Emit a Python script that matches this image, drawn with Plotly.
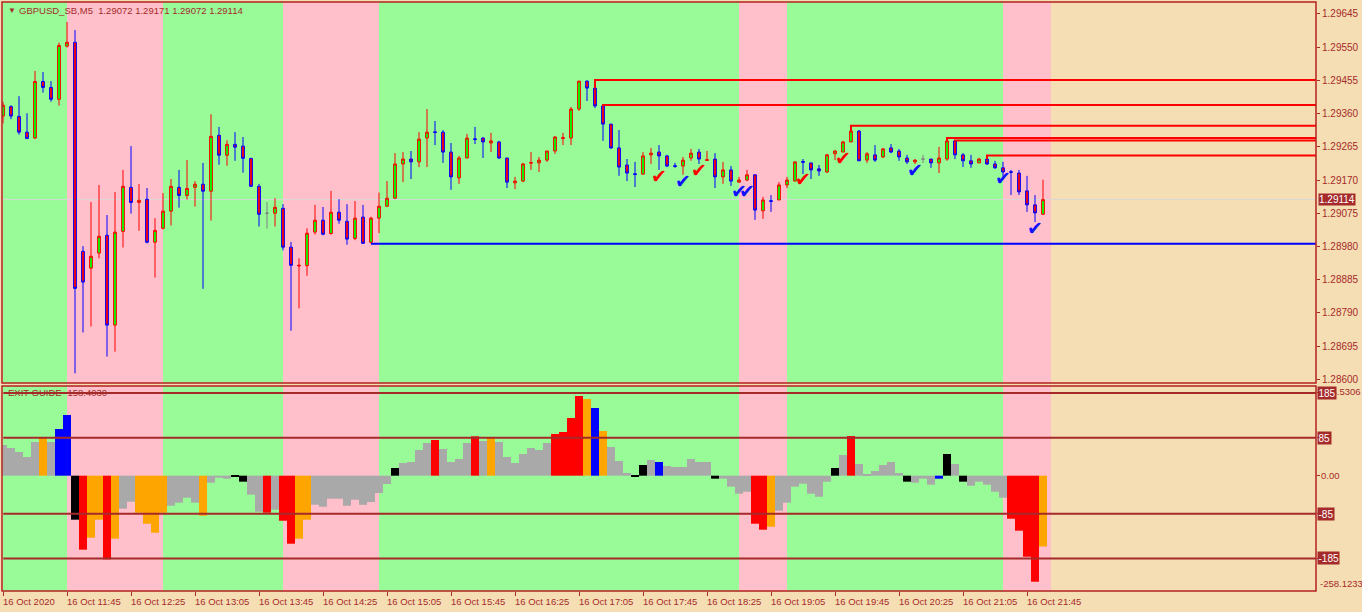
import plotly.graph_objects as go

# ---------------- data ----------------
BARS = list(range(131))

opens = [1.29353, 1.29380, 1.29352, 1.29307, 1.29290, 1.29452, 1.29435, 1.29401, 1.29553, 1.29564,
         1.28966, 1.28918, 1.28961, 1.29012, 1.28755, 1.29023, 1.29149, 1.29106, 1.29115, 1.28992,
         1.29032, 1.29081, 1.29149, 1.29126, 1.29149, 1.29158, 1.29138, 1.29298, 1.29241, 1.29272,
         1.29267, 1.29232, 1.29152, 1.29075, 1.29075, 1.29089, 1.28978, 1.28924, 1.28925, 1.29021,
         1.29055, 1.29017, 1.29078, 1.29052, 1.29003, 1.29064, 1.28992, 1.29061, 1.29095, 1.29118,
         1.29216, 1.29230, 1.29222, 1.29290, 1.29308, 1.29307, 1.29250, 1.29176, 1.29233, 1.29288,
         1.29290, 1.29276, 1.29279, 1.29233, 1.29162, 1.29167, 1.29218, 1.29219, 1.29227, 1.29253,
         1.29289, 1.29290, 1.29373, 1.29453, 1.29433, 1.29382, 1.29330, 1.29262, 1.29213, 1.29188,
         1.29187, 1.29242, 1.29250, 1.29239, 1.29211, 1.29210, 1.29233, 1.29250, 1.29226, 1.29230,
         1.29179, 1.29199, 1.29164, 1.29170, 1.29185, 1.29082, 1.29111, 1.29113, 1.29156, 1.29167,
         1.29223, 1.29219, 1.29202, 1.29193, 1.29245, 1.29250, 1.29279, 1.29310, 1.29227, 1.29242,
         1.29236, 1.29262, 1.29253, 1.29233, 1.29222, 1.29230, 1.29230, 1.29219, 1.29230, 1.29282,
         1.29242, 1.29225, 1.29219, 1.29230, 1.29216, 1.29205, 1.29194, 1.29190, 1.29139, 1.29099,
         1.29072]
highs = [1.29394, 1.29384, 1.29410, 1.29361, 1.29482, 1.29479, 1.29453, 1.29563, 1.29622, 1.29599,
         1.28981, 1.29107, 1.29156, 1.29070, 1.29136, 1.29199, 1.29267, 1.29159, 1.29147, 1.29061,
         1.29133, 1.29173, 1.29199, 1.29227, 1.29167, 1.29219, 1.29358, 1.29322, 1.29284, 1.29307,
         1.29293, 1.29232, 1.29159, 1.29107, 1.29118, 1.29101, 1.28993, 1.28946, 1.29032, 1.29099,
         1.29093, 1.29139, 1.29115, 1.29101, 1.29110, 1.29099, 1.29065, 1.29134, 1.29167, 1.29247,
         1.29250, 1.29253, 1.29307, 1.29373, 1.29339, 1.29313, 1.29276, 1.29239, 1.29302, 1.29322,
         1.29293, 1.29305, 1.29282, 1.29233, 1.29179, 1.29219, 1.29250, 1.29236, 1.29253, 1.29296,
         1.29305, 1.29379, 1.29453, 1.29455, 1.29456, 1.29385, 1.29330, 1.29313, 1.29230, 1.29222,
         1.29250, 1.29262, 1.29270, 1.29242, 1.29219, 1.29236, 1.29259, 1.29259, 1.29253, 1.29247,
         1.29222, 1.29210, 1.29179, 1.29199, 1.29185, 1.29122, 1.29127, 1.29164, 1.29179, 1.29222,
         1.29230, 1.29219, 1.29213, 1.29245, 1.29256, 1.29282, 1.29325, 1.29313, 1.29250, 1.29270,
         1.29262, 1.29273, 1.29259, 1.29242, 1.29230, 1.29242, 1.29230, 1.29265, 1.29287, 1.29285,
         1.29247, 1.29242, 1.29233, 1.29239, 1.29225, 1.29222, 1.29199, 1.29199, 1.29182, 1.29127,
         1.29171]
lows = [1.29332, 1.29344, 1.29300, 1.29287, 1.29288, 1.29420, 1.29394, 1.29383, 1.29549, 1.28617,
        1.28734, 1.28751, 1.28946, 1.28665, 1.28679, 1.28977, 1.29074, 1.29025, 1.28989, 1.28891,
        1.29029, 1.29040, 1.29091, 1.29114, 1.29094, 1.28859, 1.29054, 1.29214, 1.29211, 1.29225,
        1.29191, 1.29151, 1.29037, 1.29031, 1.29037, 1.28969, 1.28739, 1.28803, 1.28896, 1.29014,
        1.29012, 1.29014, 1.29045, 1.28985, 1.28998, 1.28988, 1.28988, 1.29018, 1.29095, 1.29118,
        1.29164, 1.29173, 1.29207, 1.29207, 1.29270, 1.29219, 1.29142, 1.29159, 1.29233, 1.29273,
        1.29233, 1.29250, 1.29230, 1.29147, 1.29144, 1.29164, 1.29199, 1.29193, 1.29222, 1.29245,
        1.29270, 1.29270, 1.29368, 1.29396, 1.29376, 1.29282, 1.29259, 1.29182, 1.29167, 1.29150,
        1.29185, 1.29216, 1.29199, 1.29207, 1.29205, 1.29185, 1.29225, 1.29216, 1.29225, 1.29147,
        1.29159, 1.29153, 1.29162, 1.29167, 1.29056, 1.29059, 1.29079, 1.29113, 1.29147, 1.29167,
        1.29187, 1.29173, 1.29182, 1.29190, 1.29227, 1.29250, 1.29279, 1.29225, 1.29219, 1.29222,
        1.29233, 1.29247, 1.29225, 1.29216, 1.29216, 1.29219, 1.29205, 1.29190, 1.29225, 1.29230,
        1.29207, 1.29205, 1.29219, 1.29213, 1.29202, 1.29182, 1.29127, 1.29127, 1.29079, 1.29050,
        1.29072]
closes = [1.29384, 1.29353, 1.29307, 1.29289, 1.29452, 1.29435, 1.29401, 1.29555, 1.29564, 1.28860,
          1.28878, 1.28952, 1.29009, 1.28755, 1.29021, 1.29152, 1.29106, 1.29112, 1.28992, 1.29026,
          1.29081, 1.29152, 1.29126, 1.29146, 1.29158, 1.29138, 1.29295, 1.29241, 1.29272, 1.29264,
          1.29232, 1.29152, 1.29072, 1.29075, 1.29092, 1.28978, 1.28926, 1.28926, 1.29018, 1.29055,
          1.29015, 1.29078, 1.29055, 1.29001, 1.29061, 1.28989, 1.29061, 1.29095, 1.29118, 1.29216,
          1.29230, 1.29222, 1.29287, 1.29307, 1.29306, 1.29250, 1.29179, 1.29233, 1.29290, 1.29286,
          1.29279, 1.29282, 1.29233, 1.29164, 1.29167, 1.29216, 1.29220, 1.29227, 1.29253, 1.29293,
          1.29291, 1.29373, 1.29453, 1.29433, 1.29382, 1.29330, 1.29262, 1.29207, 1.29190, 1.29186,
          1.29239, 1.29247, 1.29239, 1.29210, 1.29209, 1.29227, 1.29247, 1.29230, 1.29228, 1.29179,
          1.29199, 1.29167, 1.29170, 1.29185, 1.29084, 1.29113, 1.29109, 1.29156, 1.29170, 1.29222,
          1.29221, 1.29199, 1.29196, 1.29242, 1.29253, 1.29279, 1.29310, 1.29225, 1.29245, 1.29227,
          1.29259, 1.29250, 1.29236, 1.29222, 1.29227, 1.29230, 1.29219, 1.29233, 1.29282, 1.29242,
          1.29225, 1.29216, 1.29230, 1.29216, 1.29205, 1.29193, 1.29192, 1.29136, 1.29099, 1.29076,
          1.29114]

exit_guide = [68.6, 61.9, 52.9, 41.8, 75.3, 86.0, 75.3, 104.4, 135.7, -98.4,
              -165.5, -138.7, -98.4, -187.2, -140.9, -73.8, -58.2, -82.8, -107.4, -127.5,
              -82.8, -67.1, -60.4, -49.2, -60.4, -89.5, -15.7, -4.5, -6.7, -1.5,
              -13.4, -42.5, -80.5, -82.8, -76.1, -100.7, -152.1, -140.9, -98.4, -64.9,
              -69.4, -51.5, -51.5, -67.1, -53.7, -65.2, -58.9, -38.8, -18.6, 17.2,
              28.3, 30.6, 57.4, 73.1, 79.8, 59.7, 30.6, 37.3, 73.1, 88.0,
              77.6, 86.0, 75.3, 41.8, 28.3, 48.5, 61.9, 57.4, 73.1, 93.2,
              97.7, 129.0, 178.2, 171.5, 151.4, 99.9, 64.1, 32.8, 6.0, -1.5,
              23.9, 35.0, 30.6, 21.6, 19.4, 19.4, 37.3, 30.6, 30.6, -6.7,
              -6.7, -24.6, -40.3, -35.8, -107.4, -120.8, -114.1, -78.3, -60.4, -24.6,
              -17.9, -40.3, -47.0, -13.4, 17.2, 46.2, 88.7, 26.1, 3.7, 10.4,
              23.9, 30.6, 6.0, -13.4, -15.7, -6.7, -20.1, -6.7, 48.5, 26.1,
              -13.4, -22.4, -13.4, -20.1, -35.8, -49.2, -96.2, -123.0, -181.2, -237.1,
              -158.4]
exit_state = (["gray"] * 5 + ["orange", "gray", "blue", "blue", "black", "red", "orange", "orange", "red", "orange"]
              + ["gray"] * 2 + ["orange"] * 4 + ["gray"] * 4 + ["orange"] + ["gray"] * 3 + ["black"] * 2
              + ["gray"] * 2 + ["red", "gray", "red", "red", "orange", "orange"] + ["gray"] * 10 + ["black"]
              + ["gray"] * 4 + ["red"] + ["gray"] * 4 + ["red", "gray", "orange"] + ["gray"] * 7
              + ["red"] * 4 + ["orange", "blue", "orange"] + ["gray"] * 3 + ["black", "black", "gray", "blue"]
              + ["gray"] * 6 + ["black"] + ["gray"] * 4 + ["red", "red", "orange"] + ["gray"] * 7 + ["black", "gray", "red"]
              + ["gray"] * 6 + ["black"] + ["gray"] * 3 + ["blue", "black", "gray", "black"] + ["gray"] * 5
              + ["red"] * 4 + ["orange"])

# session background zones (start bar, end bar, kind)
zone_start = [0, 8, 20, 35, 47, 92, 98, 125]
zone_end = [8, 20, 35, 47, 92, 98, 125, 131]
zone_kind = ["up", "down", "up", "down", "up", "down", "up", "down"]

# resistance / support levels
res_bars = [74, 75, 106, 118, 119, 123]
res_levels = [1.29456, 1.29385, 1.29325, 1.29290, 1.29283, 1.29240]
sup_bars = [46]
sup_levels = [1.28988]

# check-mark signals
check_bars = [82, 85, 87, 92, 93, 100, 105, 114, 125, 129]
check_prices = [1.29174, 1.29160, 1.29192, 1.29133, 1.29133, 1.29166, 1.29227, 1.29192, 1.29169, 1.29026]
check_side = ["sell", "buy", "sell", "buy", "buy", "sell", "sell", "buy", "buy", "buy"]

price_ticks = [1.29645, 1.29550, 1.29455, 1.29360, 1.29265, 1.29170, 1.29075,
               1.28980, 1.28885, 1.28790, 1.28695, 1.28600]
ind_levels = [185, 85, -85, -185]
ind_max_label = 185.5306
ind_min_label = -258.1233

x_tick_bars = [0, 8, 16, 24, 32, 40, 48, 56, 64, 72, 80, 88, 96, 104, 112, 120, 128]
x_tick_labels = ["16 Oct 2020", "16 Oct 11:45", "16 Oct 12:25", "16 Oct 13:05", "16 Oct 13:45",
                 "16 Oct 14:25", "16 Oct 15:05", "16 Oct 15:45", "16 Oct 16:25", "16 Oct 17:05",
                 "16 Oct 17:45", "16 Oct 18:25", "16 Oct 19:05", "16 Oct 19:45", "16 Oct 20:25",
                 "16 Oct 21:05", "16 Oct 21:45"]

symbol_title = "GBPUSD_SB,M5  1.29072 1.29171 1.29072 1.29114"
ind_title = "EXIT GUIDE -158.4030"

# ---------------- style ----------------
WHEAT = "#F5DEB3"
GREEN_BG = "#98FB98"
PINK_BG = "#FFC0CB"
AXIS = "#A52A2A"
FRAME = "#B22222"
FONT = "Liberation Sans, Arial, sans-serif"
STATE_COLORS = {"gray": "#A9A9A9", "orange": "#FFA500", "red": "#FF0000", "blue": "#0000FF", "black": "#000000"}

X_MIN, X_MAX = -0.125, 164.125
P_MIN, P_MAX = 1.285894, 1.296793
I_MIN, I_MAX = -257.9, 200.6
UP_DOM = [0.35314, 1.0]
LO_DOM = [0.0, 0.34805]
W, H = 1362, 612
ML, MR, MT, MB = 2, 46, 2, 21
PW = W - ML - MR
PH = H - MT - MB


def px_x(px):
    return (px - ML) / PW


def px_y(py):
    return (H - MB - py) / PH


fig = go.Figure()

# candles
normal = [i for i in BARS if opens[i] != closes[i]]
doji = [i for i in BARS if opens[i] == closes[i]]
fig.add_trace(go.Candlestick(
    x=[BARS[i] for i in normal], open=[opens[i] for i in normal], high=[highs[i] for i in normal],
    low=[lows[i] for i in normal], close=[closes[i] for i in normal],
    increasing=dict(line=dict(color="#FF0000", width=1), fillcolor="#00FF00"),
    decreasing=dict(line=dict(color="#0000FF", width=1), fillcolor="#FF0000"),
    whiskerwidth=0, xaxis="x", yaxis="y", hoverinfo="skip", showlegend=False))
fig.add_trace(go.Candlestick(
    x=[BARS[i] for i in doji], open=[opens[i] for i in doji], high=[highs[i] for i in doji],
    low=[lows[i] for i in doji], close=[closes[i] for i in doji],
    increasing=dict(line=dict(color="#808080", width=1), fillcolor="#808080"),
    decreasing=dict(line=dict(color="#808080", width=1), fillcolor="#808080"),
    whiskerwidth=0, xaxis="x", yaxis="y", hoverinfo="skip", showlegend=False))

# resistance lines
for b, lv in zip(res_bars, res_levels):
    top = max(opens[b], closes[b])
    fig.add_trace(go.Scatter(x=[b, b, X_MAX], y=[top, lv, lv], mode="lines",
                             line=dict(color="#FF0000", width=2), xaxis="x", yaxis="y",
                             hoverinfo="skip", showlegend=False))
for b, lv in zip(sup_bars, sup_levels):
    fig.add_trace(go.Scatter(x=[b, X_MAX], y=[lv, lv], mode="lines",
                             line=dict(color="#0000FF", width=2), xaxis="x", yaxis="y",
                             hoverinfo="skip", showlegend=False))

# check marks
fig.add_trace(go.Scatter(
    x=check_bars, y=check_prices, mode="text", text=["\u2714"] * len(check_bars),
    textfont=dict(family="DejaVu Sans", size=19,
                  color=["#FF0000" if s == "sell" else "#1010FF" for s in check_side]),
    textposition="middle center", xaxis="x", yaxis="y", hoverinfo="skip", showlegend=False))

# indicator histogram
fig.add_trace(go.Bar(x=BARS, y=exit_guide, width=1.0,
                     marker=dict(color=[STATE_COLORS[s] for s in exit_state], line=dict(width=0)),
                     xaxis="x2", yaxis="y2", hoverinfo="skip", showlegend=False))

shapes = []
for s, e, k in zip(zone_start, zone_end, zone_kind):
    col = GREEN_BG if k == "up" else PINK_BG
    for xr, yr in (("x", "y domain"), ("x2", "y2 domain")):
        shapes.append(dict(type="rect", xref=xr, yref=yr, x0=s, x1=e, y0=0, y1=1,
                           fillcolor=col, line=dict(width=0), layer="below"))
# current price line
shapes.append(dict(type="line", xref="x domain", yref="y", x0=0, x1=1, y0=closes[-1], y1=closes[-1],
                   line=dict(color="#D8D8D8", width=1), layer="below"))
# indicator level lines
for lv in ind_levels:
    shapes.append(dict(type="line", xref="x2 domain", yref="y2", x0=0.001, x1=1, y0=lv, y1=lv,
                       line=dict(color=AXIS, width=2), layer="above"))
# panel frames
for dom in (UP_DOM, LO_DOM):
    shapes.append(dict(type="rect", xref="paper", yref="paper", x0=0, x1=1, y0=dom[0], y1=dom[1],
                       line=dict(color=FRAME, width=1.5), fillcolor="rgba(0,0,0,0)", layer="above"))

annotations = []
annotations.append(dict(text="\u25BC", xref="paper", yref="paper", x=px_x(6), y=px_y(10),
                        xanchor="left", yanchor="middle", showarrow=False,
                        font=dict(family=FONT, size=8, color=AXIS)))
annotations.append(dict(text=symbol_title, xref="paper", yref="paper", x=px_x(17), y=px_y(10),
                        xanchor="left", yanchor="middle", showarrow=False,
                        font=dict(family=FONT, size=9.5, color=AXIS)))
annotations.append(dict(text=ind_title, xref="paper", yref="y2", x=px_x(6), y=ind_levels[0],
                        xanchor="left", yanchor="middle", showarrow=False,
                        font=dict(family=FONT, size=9.5, color=AXIS)))
for b, t in zip(x_tick_bars, x_tick_labels):
    annotations.append(dict(text=t, xref="x2", yref="paper", x=b, y=px_y(601), xshift=-2,
                            xanchor="left", yanchor="middle", showarrow=False,
                            font=dict(family=FONT, size=9.5, color=AXIS)))
# last price tag
annotations.append(dict(text=f"{closes[-1]:.5f}", xref="paper", yref="y", x=px_x(1318), y=closes[-1],
                        xanchor="left", yanchor="middle", showarrow=False, bgcolor=AXIS, borderpad=0,
                        font=dict(family=FONT, size=10, color="#FFFFFF")))
# indicator scale labels
annotations.append(dict(text=f"{ind_max_label:.4f}", xref="paper", yref="y2", x=px_x(1319), y=ind_levels[0] + 3,
                        xanchor="left", yanchor="middle", showarrow=False,
                        font=dict(family=FONT, size=9.5, color=AXIS)))
annotations.append(dict(text="0.00", xref="paper", yref="y2", x=px_x(1319), y=0,
                        xanchor="left", yanchor="middle", showarrow=False,
                        font=dict(family=FONT, size=9.5, color=AXIS)))
annotations.append(dict(text=f"{ind_min_label:.4f}", xref="paper", yref="y2", x=px_x(1318), y=-242,
                        xanchor="left", yanchor="middle", showarrow=False,
                        font=dict(family=FONT, size=9.5, color=AXIS)))
for lv in ind_levels:
    annotations.append(dict(text=f"{lv}", xref="paper", yref="y2", x=px_x(1317), y=lv,
                            xanchor="left", yanchor="middle", showarrow=False, bgcolor=AXIS, borderpad=0.5,
                            font=dict(family=FONT, size=10, color="#FFFFFF")))

fig.update_layout(
    width=W, height=H, margin=dict(l=ML, r=MR, t=MT, b=MB),
    paper_bgcolor=WHEAT, plot_bgcolor=WHEAT, showlegend=False, boxgap=0.5, boxmode="overlay",
    shapes=shapes, annotations=annotations,
    xaxis=dict(domain=[0, 1], range=[X_MIN, X_MAX], anchor="y", showticklabels=False, ticks="",
               showgrid=False, zeroline=False, showline=False, rangeslider=dict(visible=False)),
    yaxis=dict(domain=UP_DOM, range=[P_MIN, P_MAX], anchor="x", side="right",
               tickvals=price_ticks, ticktext=[f"{v:.5f}" for v in price_ticks],
               ticks="outside", ticklen=3, tickcolor=AXIS, tickwidth=1,
               tickfont=dict(family=FONT, size=10, color=AXIS),
               showgrid=False, zeroline=False, showline=False),
    xaxis2=dict(domain=[0, 1], range=[X_MIN, X_MAX], anchor="y2", tickvals=x_tick_bars,
                ticks="outside", ticklen=4, tickcolor=AXIS, showticklabels=False,
                showgrid=False, zeroline=False, showline=False),
    yaxis2=dict(domain=LO_DOM, range=[I_MIN, I_MAX], anchor="x2", side="right",
                tickvals=[ind_max_label, 85, 0, -85, -185, ind_min_label], ticks="outside", ticklen=3,
                tickcolor=AXIS, showticklabels=False, showgrid=False, zeroline=False, showline=False),
)

fig.write_html("out.html", config={"displayModeBar": False},
               post_script="document.body.style.margin='0';")
